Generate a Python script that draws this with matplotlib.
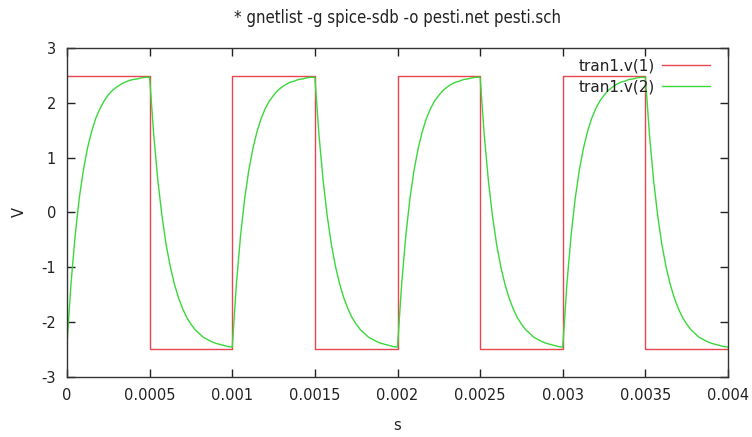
import numpy as np
import matplotlib
matplotlib.use("Agg")
import matplotlib.pyplot as plt

# square wave source, tran1.v(1)
v1_t = [0, 0.0005, 0.001, 0.0015, 0.002, 0.0025, 0.003, 0.0035, 0.004]
v1 = [2.5, -2.5, 2.5, -2.5, 2.5, -2.5, 2.5, -2.5, -2.5]

# capacitor voltage, tran1.v(2), read every 25 us
v2_t = np.arange(0, 4001, 25) * 1e-6
v2 = [
    # 0 .. 0.0005 rise
    -2.40, -1.27, -0.40, 0.28, 0.79, 1.19, 1.49, 1.73, 1.90, 2.04, 2.15,
    2.23, 2.29, 2.34, 2.38, 2.41, 2.43, 2.44, 2.46, 2.47, 2.47,
    # fall
    1.41, 0.58, -0.07, -0.59, -0.99, -1.31, -1.56, -1.76, -1.92, -2.04,
    -2.14, -2.21, -2.28, -2.32, -2.36, -2.39, -2.41, -2.43, -2.45, -2.46,
    # rise
    -1.31, -0.43, 0.25, 0.77, 1.17, 1.48, 1.72, 1.90, 2.04, 2.14,
    2.23, 2.29, 2.34, 2.38, 2.40, 2.43, 2.44, 2.46, 2.47, 2.47,
    # fall
    1.41, 0.58, -0.07, -0.59, -0.99, -1.31, -1.56, -1.76, -1.92, -2.04,
    -2.14, -2.21, -2.28, -2.32, -2.36, -2.39, -2.41, -2.43, -2.45, -2.46,
    # rise
    -1.31, -0.43, 0.25, 0.77, 1.17, 1.48, 1.72, 1.90, 2.04, 2.14,
    2.23, 2.29, 2.34, 2.38, 2.40, 2.43, 2.44, 2.46, 2.47, 2.47,
    # fall
    1.41, 0.58, -0.07, -0.59, -0.99, -1.31, -1.56, -1.76, -1.92, -2.04,
    -2.14, -2.21, -2.28, -2.32, -2.36, -2.39, -2.41, -2.43, -2.45, -2.46,
    # rise
    -1.31, -0.43, 0.25, 0.77, 1.17, 1.48, 1.72, 1.90, 2.04, 2.14,
    2.23, 2.29, 2.34, 2.38, 2.40, 2.43, 2.44, 2.46, 2.47, 2.47,
    # fall
    1.41, 0.58, -0.07, -0.59, -0.99, -1.31, -1.56, -1.76, -1.92, -2.04,
    -2.14, -2.21, -2.28, -2.32, -2.36, -2.39, -2.41, -2.43, -2.45, -2.46,
]

x_ticks = [0, 0.0005, 0.001, 0.0015, 0.002, 0.0025, 0.003, 0.0035, 0.004]
x_labels = ["0", "0.0005", "0.001", "0.0015", "0.002", "0.0025", "0.003", "0.0035", "0.004"]
y_ticks = [-3, -2, -1, 0, 1, 2, 3]

plt.rcParams['font.family'] = ['DejaVu Sans']
plt.rcParams['font.size'] = 10.5
plt.rcParams['axes.unicode_minus'] = False

fig = plt.figure(figsize=(7.52, 4.37), dpi=100)
ax = fig.add_axes([0.0891, 0.138, 0.879, 0.7515])

ax.plot(v1_t, v1, drawstyle='steps-post', color='#e8464f', lw=1.0, label='tran1.v(1)')
ax.plot(v2_t, v2, color='#3ad83a', lw=1.0, label='tran1.v(2)')

ax.set_xlim(0, 0.004)
ax.set_ylim(-3, 3)
ax.set_xticks(x_ticks)
ax.set_xticklabels(x_labels)
ax.set_yticks(y_ticks)

ax.tick_params(direction='in', length=6, width=1, top=True, right=True,
               colors='#222222', labelcolor='#222222', pad=8)
for sp in ax.spines.values():
    sp.set_color('#333333')
    sp.set_linewidth(1)

ax.set_xlabel('s', color='#222222', labelpad=11)
ax.set_ylabel('V', color='#222222', labelpad=10, rotation=90)

fig.suptitle('* gnetlist -g spice-sdb -o pesti.net pesti.sch', x=0.529, y=0.98,
             fontsize=12, fontstretch='condensed', color='#222222')

ax.legend(loc='upper right', bbox_to_anchor=(0.9955, 1.015), frameon=False,
          markerfirst=False, handlelength=3.1, handletextpad=0.5,
          labelspacing=0.4, borderaxespad=0.6, fontsize=11, labelcolor='#222222')

fig.savefig('out.png', dpi=100)
